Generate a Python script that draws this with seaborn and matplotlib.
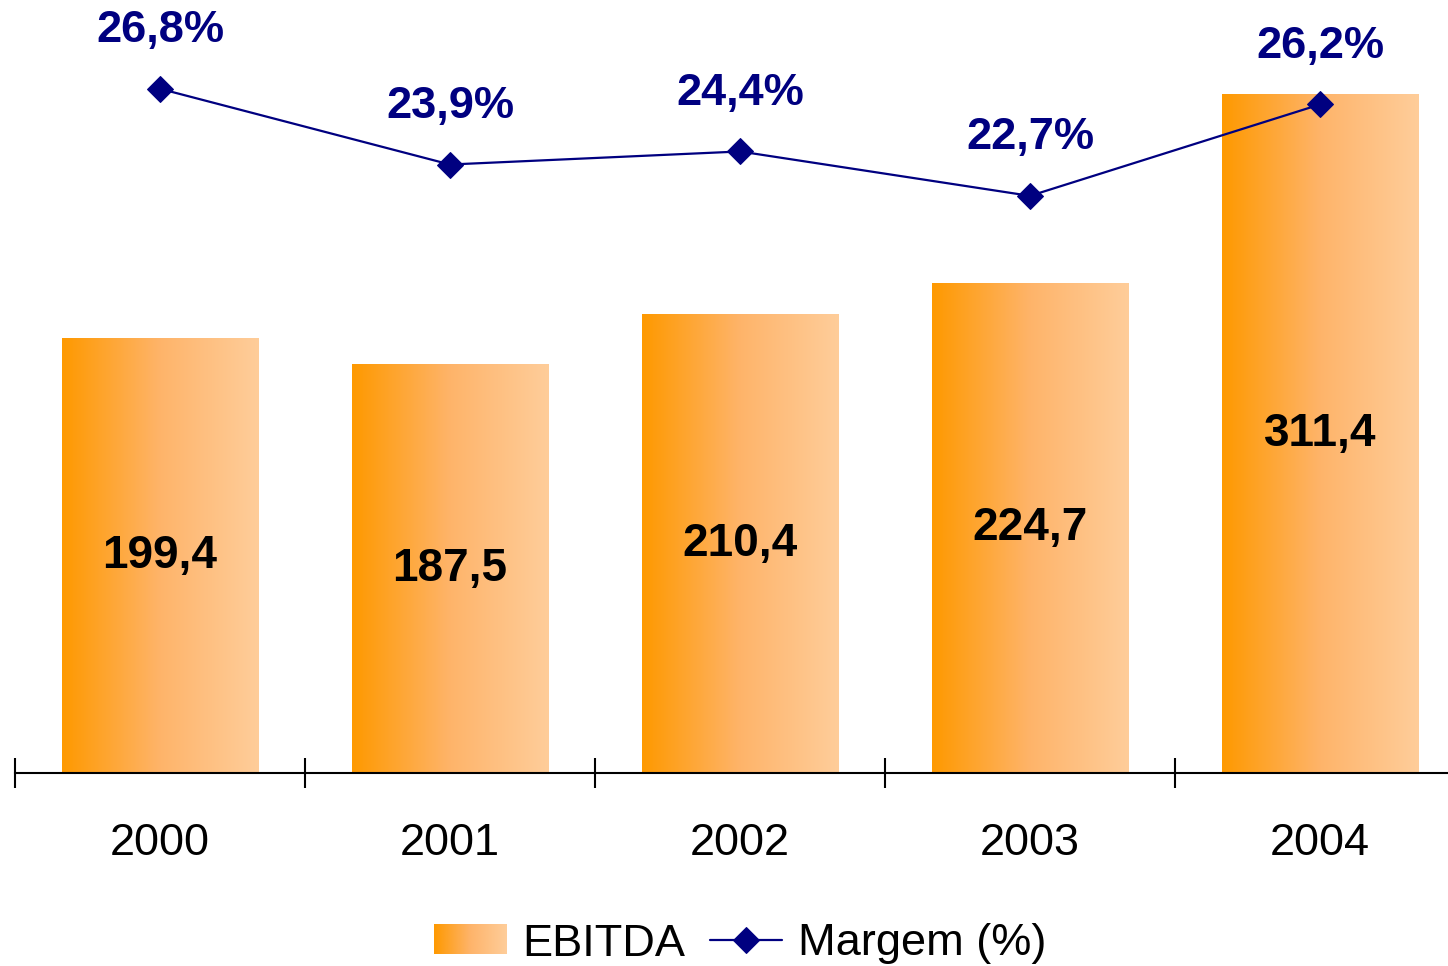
import numpy as np
import pandas as pd
import matplotlib
matplotlib.use("Agg")
import matplotlib.pyplot as plt
import seaborn as sns
from matplotlib.colors import LinearSegmentedColormap
from matplotlib.patches import Rectangle
from matplotlib.legend_handler import HandlerBase
from matplotlib.image import BboxImage
from matplotlib.transforms import Bbox, TransformedBbox

# Dados
anos = ["2000", "2001", "2002", "2003", "2004"]
ebitda = [199.4, 187.5, 210.4, 224.7, 311.4]
margem = [26.8, 23.9, 24.4, 22.7, 26.2]

df = pd.DataFrame({"ano": anos, "ebitda": ebitda, "margem": margem})

sns.set_style("white")
plt.rcParams["font.family"] = ["Liberation Sans", "DejaVu Sans"]
plt.rcParams["text.color"] = "black"

laranja = LinearSegmentedColormap.from_list(
    "laranja", [(0, "#FF9900"), (0.5, "#FEB46A"), (1, "#FFCD9A")])
azul = "#000080"
gradiente = np.linspace(0, 1, 256).reshape(1, -1)


class HandlerGradiente(HandlerBase):
    def create_artists(self, legend, orig_handle, xdescent, ydescent,
                       width, height, fontsize, trans):
        bb = Bbox.from_bounds(-xdescent, -ydescent, width, height)
        img = BboxImage(TransformedBbox(bb, trans), cmap=laranja,
                        interpolation="bicubic")
        img.set_data(gradiente)
        return [img]


fig = plt.figure(figsize=(14.48, 9.66), dpi=100)
ax = fig.add_axes([15 / 1448, 193 / 966, 1450 / 1448, 773 / 966])

# Barras EBITDA
sns.barplot(data=df, x="ano", y="ebitda", ax=ax, width=0.676, color="#FFB366")
for barra, valor in zip(ax.patches, df["ebitda"]):
    x0, y0 = barra.get_x(), barra.get_y()
    w, h = barra.get_width(), barra.get_height()
    ax.imshow(gradiente, extent=[x0, x0 + w, y0, y0 + h], aspect="auto",
              cmap=laranja, zorder=barra.get_zorder())
    barra.set_facecolor("none")
    barra.set_edgecolor("none")
    ax.text(x0 + w / 2, y0 + h / 2, f"{valor:.1f}".replace(".", ","),
            ha="center", va="center", fontsize=33, fontweight="bold",
            color="black", zorder=5)

ax.set_xlim(-0.5, 4.5)
ax.set_ylim(0, 354.6)
ax.set_xlabel("")
ax.set_ylabel("")
ax.set_yticks([])
for lado in ["top", "right", "left"]:
    ax.spines[lado].set_visible(False)
ax.spines["bottom"].set_linewidth(1.5)
ax.spines["bottom"].set_color("black")
ax.set_xticks(range(len(anos)))
ax.set_xticklabels(anos, fontsize=32.5, color="black")
ax.tick_params(axis="x", which="major", bottom=True, length=0, pad=36,
               labelcolor="black")
ax.set_xticks(np.arange(-0.5, 5.0, 1.0), minor=True)
ax.tick_params(axis="x", which="minor", bottom=True, length=22, width=1.5,
               direction="inout", color="black")

# Linha Margem
ax2 = ax.twinx()
sns.lineplot(data=df, x="ano", y="margem", ax=ax2, color=azul, linewidth=1.6,
             marker="D", markersize=13, markeredgecolor=azul, sort=False)
ax2.set_ylim(0.6, 30.2)
ax2.set_xlim(-0.5, 4.5)
ax2.set_ylabel("")
ax2.set_yticks([])
for lado in ax2.spines:
    ax2.spines[lado].set_visible(False)
for i, v in enumerate(df["margem"]):
    ax2.annotate(f"{v:.1f}%".replace(".", ","), (i, v), xytext=(0, 42),
                 textcoords="offset points", ha="center", va="center",
                 fontsize=32.5, fontweight="bold", color=azul)

linha = ax2.get_lines()[0]
fig.legend([Rectangle((0, 0), 1, 1), linha], ["EBITDA", "Margem (%)"],
           handler_map={Rectangle: HandlerGradiente()},
           loc="center", bbox_to_anchor=(740 / 1448, 1 - 944 / 966),
           ncol=2, frameon=False, fontsize=32.5, handlelength=1.6,
           handleheight=0.62, handletextpad=0.35, columnspacing=0.55,
           borderpad=0, labelcolor="black")

fig.savefig("out.png", dpi=100)
